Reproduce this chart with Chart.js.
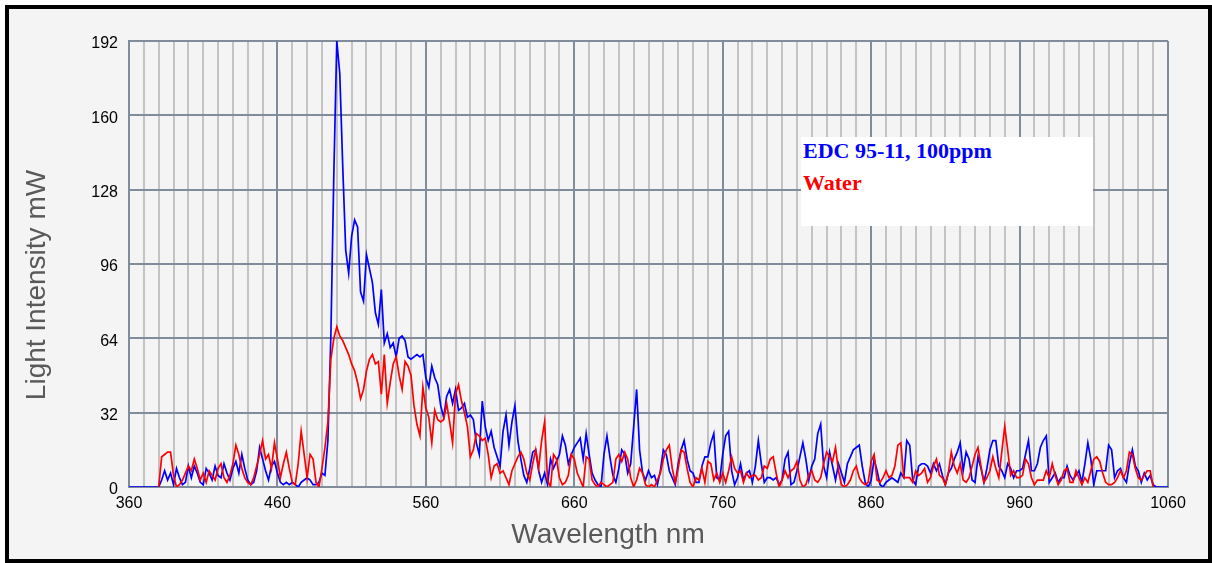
<!DOCTYPE html>
<html>
<head>
<meta charset="utf-8">
<script src="https://cdn.jsdelivr.net/npm/chart.js@4.4.0/dist/chart.umd.min.js"></script>
<style>
  html, body { margin: 0; padding: 0; background: #ffffff; }
  #wrap { position: relative; width: 1212px; height: 563px; overflow: hidden; }
  #frame { position: absolute; left: 5px; top: 5px; width: 1199px; height: 550px;
           border: 4px solid #000; background: #f4f4f4; }
  #chart { position: absolute; left: 0; top: 0; }
  .ttl { position: absolute; font-family: "Liberation Sans", Arial, sans-serif; color: #595959;
         white-space: nowrap; font-size: 28px; line-height: 28px; text-align: center; }
  #xTitle { left: 458px; top: 520px; width: 300px; }
  #yTitle { left: -114px; top: 271px; width: 300px; transform: rotate(-90deg); }
  #legendBox { position: absolute; left: 801px; top: 137px; width: 292px; height: 89px; background: #fff; }
  .lg { position: absolute; left: 803px; font-family: "Liberation Serif", "Times New Roman", serif;
        font-weight: bold; font-size: 22px; line-height: 22px; white-space: nowrap; }
</style>
</head>
<body>
<div id="wrap">
  <div id="frame"></div>
  <canvas id="chart" width="1212" height="563"></canvas>
  <div id="legendBox"></div>
  <div class="lg" id="lg0" style="top:140px;color:#0000ff;"></div>
  <div class="lg" id="lg1" style="top:172px;color:#ff0000;"></div>
  <div class="ttl" id="xTitle"></div>
  <div class="ttl" id="yTitle"></div>
</div>
<script>
// ---- data ----
const seriesNames = ['EDC 95-11, 100ppm', 'Water'];
const xAxisTitle = 'Wavelength nm';
const yAxisTitle = 'Light Intensity mW';
const WL_START = 360;   // first sample wavelength (nm)
const WL_STEP = 2;      // sampling step (nm)
const xTickLabels = [360, 460, 560, 660, 760, 860, 960, 1060];
const xMinorStep = 10;
const yTickLabels = [0, 32, 64, 96, 128, 160, 192];

// EDC 95-11, 100ppm (blue), samples at 360,362,...,1060 nm
const edcValues = [
  0,0,0,0,0,0,0,0,0,0,0,
  3,7,3,6,1,8,4,1,2,9,
  4,9,6,2,1,8,6,3,9,5,
  4,10,6,3,8,11,6,14,8,3,
  1,2,7,17,12,7,3,9,11,6,
  2,1,2,1,2,1,0,2,3,4,
  3,1,1,2,6,5,20,65,135,192,
  178,138,102,92,108,115,112,84,80,100,
  94,88,75,70,85,62,66,60,62,56,
  64,65,63,56,55,56,57,56,57,47,
  43,52,47,44,35,30,39,42,36,42,
  33,34,36,30,31,29,19,14,37,26,
  20,24,17,13,9,24,31,18,28,35,
  20,12,5,2,8,15,16,7,2,6,
  1,12,8,11,14,22,18,10,14,17,
  19,21,12,23,14,6,3,1,0,14,
  22,13,5,2,8,16,14,6,10,26,
  42,16,6,3,7,4,5,1,7,16,
  14,7,4,1,10,16,20,12,7,6,
  2,2,9,13,13,19,23,4,3,14,
  22,24,7,1,4,10,3,6,7,2,
  9,20,10,2,4,4,3,4,1,3,
  12,15,1,2,7,13,19,12,3,9,
  12,23,27,9,4,15,9,3,10,6,
  2,10,13,16,17,18,9,2,0,3,
  12,7,1,0,2,3,4,3,2,6,
  4,20,18,3,1,9,10,10,9,6,
  10,7,10,5,1,6,8,12,15,19,
  7,15,12,3,2,13,8,2,8,16,
  20,20,9,7,4,10,8,4,7,7,
  8,14,20,7,7,10,17,20,22,2,
  4,6,2,4,4,9,5,3,5,7,
  2,10,19,12,1,7,7,7,7,18,
  16,4,7,8,4,2,10,16,9,7,
  2,6,3,5,1,0,0,0,0,0
];

// Water (red), same sampling; null = no sample
const waterValues = [
  null,null,null,null,null,null,null,null,null,null,0,
  13,14,15,15,5,0,1,3,6,9,
  7,12,8,3,6,2,7,5,3,8,
  10,4,2,5,10,18,14,8,4,2,
  1,4,9,14,20,12,14,8,19,12,
  4,10,15,8,2,1,10,24,14,4,
  14,12,2,0,8,17,28,55,64,69,
  65,63,60,57,53,50,45,38,42,50,
  55,57,53,54,40,57,36,45,53,56,
  48,42,54,52,48,35,27,22,43,34,
  30,19,33,29,28,29,36,28,19,40,
  44,37,32,26,13,16,23,22,20,21,
  14,4,9,10,6,7,4,1,7,10,
  13,15,12,6,3,10,16,8,20,28,
  3,0,14,12,4,1,2,5,14,12,
  6,3,0,13,12,3,1,0,2,1,
  0,1,2,12,14,11,15,12,4,0,
  3,8,6,1,0,1,0,3,6,12,
  16,18,8,2,8,16,15,8,2,0,
  4,3,8,2,11,10,3,6,2,6,
  2,7,13,8,6,7,2,6,4,5,
  5,3,4,9,8,12,13,6,0,3,
  7,4,7,8,11,3,0,1,5,7,
  3,2,4,10,15,13,11,17,7,1,
  0,1,3,7,9,4,2,1,2,11,
  14,3,2,4,7,4,5,9,18,19,
  4,4,4,2,7,5,6,8,2,4,
  9,12,5,4,1,6,15,9,6,10,
  3,2,4,9,14,17,9,2,4,7,
  13,8,4,15,26,16,5,7,4,4,
  5,12,10,4,1,3,3,3,7,4,
  10,5,1,3,7,8,2,2,7,4,
  1,4,2,7,12,13,11,6,2,1,
  1,2,4,7,4,7,15,14,8,4,
  3,5,7,7,0,null,null,null,null,null
];

// ---- build ----
const wavelengths = edcValues.map((_, i) => WL_START + i * WL_STEP);
const xMin = xTickLabels[0], xMax = xTickLabels[xTickLabels.length - 1];
const xGrid = [];
for (let v = xMin; v <= xMax; v += xMinorStep) xGrid.push(v);

const MAJOR = '#808c99';
const MINOR = '#c3c3c3';
const tickFont = { family: '"Liberation Sans", Arial, sans-serif', size: 16 };

document.getElementById('lg0').textContent = seriesNames[0];
document.getElementById('lg1').textContent = seriesNames[1];
document.getElementById('xTitle').textContent = xAxisTitle;
document.getElementById('yTitle').textContent = yAxisTitle;

new Chart(document.getElementById('chart'), {
  type: 'line',
  data: {
    datasets: [
      { label: seriesNames[1], data: wavelengths.map((x, i) => ({ x, y: waterValues[i] })),
        borderColor: '#ff0000', borderWidth: 1.7, pointRadius: 0, tension: 0, order: 0, spanGaps: false },
      { label: seriesNames[0], data: wavelengths.map((x, i) => ({ x, y: edcValues[i] })),
        borderColor: '#0000ff', borderWidth: 1.7, pointRadius: 0, tension: 0, order: 1 }
    ]
  },
  options: {
    responsive: false,
    animation: false,
    devicePixelRatio: 1,
    layout: { padding: { left: 0, top: 41, right: 44, bottom: 0 } },
    plugins: { legend: { display: false }, tooltip: { enabled: false } },
    scales: {
      x: {
        type: 'linear', min: xMin, max: xMax,
        afterBuildTicks: s => { s.ticks = xGrid.map(v => ({ value: v })); },
        afterFit: s => { s.height = 76; },
        ticks: {
          autoSkip: false, maxRotation: 0, minRotation: 0, padding: 7,
          font: tickFont, color: '#000',
          callback: v => xTickLabels.includes(v) ? String(v) : ''
        },
        grid: {
          drawTicks: false, lineWidth: 2,
          color: c => (c.tick && xTickLabels.includes(c.tick.value)) ? MAJOR : MINOR
        },
        border: { color: MAJOR, width: 2 }
      },
      y: {
        min: yTickLabels[0], max: yTickLabels[yTickLabels.length - 1],
        afterBuildTicks: s => { s.ticks = yTickLabels.map(v => ({ value: v })); },
        afterFit: s => { s.width = 129; },
        ticks: { padding: 11, labelOffset: 3, font: tickFont, color: '#000' },
        grid: { drawTicks: false, lineWidth: 2, color: MAJOR },
        border: { color: MAJOR, width: 2 }
      }
    }
  }
});
</script>
</body>
</html>
